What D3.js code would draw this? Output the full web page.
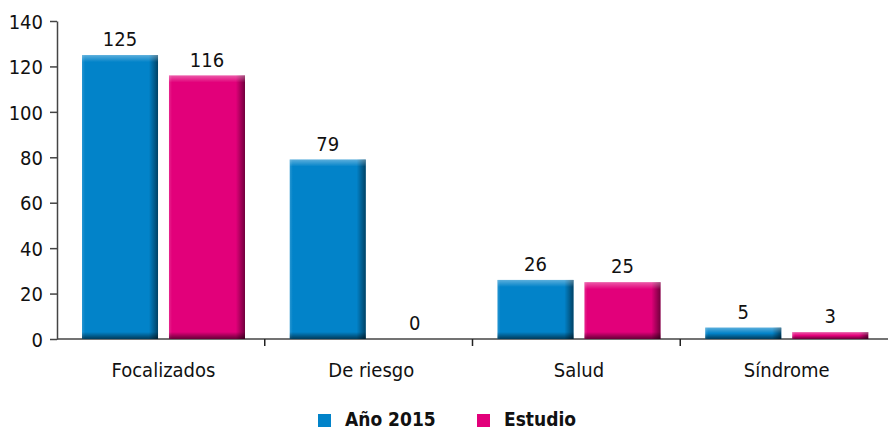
<!DOCTYPE html>
<html>
<head>
<meta charset="utf-8">
<script src="https://cdn.jsdelivr.net/npm/d3@7"></script>
<style>
    body { margin: 0; background: #fff; }
    text { font-family: "DejaVu Sans Condensed", "DejaVu Sans", sans-serif; font-stretch: condensed; fill: #111; }
</style>
</head>
<body>
<div id="chart-area"></div>
<script>

// Data
var categories = ["Focalizados", "De riesgo", "Salud", "Síndrome"];
var seriesNames = ["Año 2015", "Estudio"];
var anio2015 = [125, 79, 26, 5];
var estudio = [116, 0, 25, 3];
var yTicks = [0, 20, 40, 60, 80, 100, 120, 140];

var colorMap = {
    "Año 2015": "#0283c9",
    "Estudio": "#e2007a"
};

var data = categories.map(function(c, i) {
    return { name: c, values: [
        { key: seriesNames[0], value: anio2015[i] },
        { key: seriesNames[1], value: estudio[i] }
    ]};
});

var width = 889, height = 430;

var svg = d3.select("#chart-area").append("svg")
    .attr("width", width)
    .attr("height", height);

var defs = svg.append("defs");

// bevel gradients
var side = defs.append("linearGradient").attr("id", "side")
    .attr("x1", 0).attr("x2", 1).attr("y1", 0).attr("y2", 0);
side.append("stop").attr("offset", 0).attr("stop-color", "#fff").attr("stop-opacity", 0.15);
side.append("stop").attr("offset", 0.04).attr("stop-color", "#fff").attr("stop-opacity", 0);
side.append("stop").attr("offset", 0.88).attr("stop-color", "#000").attr("stop-opacity", 0);
side.append("stop").attr("offset", 1).attr("stop-color", "#000").attr("stop-opacity", 0.5);

var topG = defs.append("linearGradient").attr("id", "topg")
    .attr("x1", 0).attr("x2", 0).attr("y1", 0).attr("y2", 1);
topG.append("stop").attr("offset", 0).attr("stop-color", "#fff").attr("stop-opacity", 0.35);
topG.append("stop").attr("offset", 1).attr("stop-color", "#fff").attr("stop-opacity", 0);

var botG = defs.append("linearGradient").attr("id", "botg")
    .attr("x1", 0).attr("x2", 0).attr("y1", 0).attr("y2", 1);
botG.append("stop").attr("offset", 0).attr("stop-color", "#000").attr("stop-opacity", 0);
botG.append("stop").attr("offset", 1).attr("stop-color", "#000").attr("stop-opacity", 0.55);

// Scales
var x0 = d3.scaleBand()
    .domain(categories)
    .range([57, 888]);

var x1 = d3.scaleBand()
    .domain(seriesNames)
    .range([25, 188])
    .paddingInner(0.126);

var y = d3.scaleLinear()
    .domain([0, 140])
    .range([339, 21]);

// Axes
var yAxis = d3.axisLeft(y).tickValues(yTicks).tickSize(7).tickSizeOuter(0);
var gy = svg.append("g")
    .attr("class", "y-axis axis")
    .attr("transform", "translate(57,0)")
    .call(yAxis);
gy.select(".domain").attr("stroke", "#444").attr("stroke-width", 1.5);
gy.selectAll(".tick line").attr("stroke", "#444").attr("stroke-width", 1.5);
gy.selectAll(".tick text")
    .attr("x", -14)
    .attr("dy", "0.36em")
    .style("font-size", "20px")
    .attr("fill", "#111");

// x axis line with category ticks
svg.append("line")
    .attr("x1", 57).attr("x2", 888)
    .attr("y1", y(0)).attr("y2", y(0))
    .attr("stroke", "#444").attr("stroke-width", 1.5);

svg.selectAll("line.xtick")
    .data(categories.slice(1))
    .enter().append("line")
    .attr("class", "xtick")
    .attr("x1", function(d) { return x0(d); })
    .attr("x2", function(d) { return x0(d); })
    .attr("y1", y(0)).attr("y2", y(0) + 7)
    .attr("stroke", "#222").attr("stroke-width", 1.5);

svg.selectAll("text.cat")
    .data(categories)
    .enter().append("text")
    .attr("class", "cat")
    .attr("x", function(d) { return x0(d) + x1.range()[0] + (x1.range()[1] - x1.range()[0]) / 2; })
    .attr("y", 377)
    .attr("text-anchor", "middle")
    .style("font-size", "20px")
    .text(function(d) { return d; });

// Bars
var groups = svg.selectAll("g.cat-group")
    .data(data)
    .enter().append("g")
    .attr("class", "cat-group")
    .attr("transform", function(d) { return "translate(" + x0(d.name) + ",0)"; });

var bars = groups.selectAll("g.bar")
    .data(function(d) { return d.values.filter(function(v) { return v.value > 0; }); })
    .enter().append("g")
    .attr("class", "bar");

bars.append("rect")
    .attr("x", function(d) { return x1(d.key); })
    .attr("y", function(d) { return y(d.value); })
    .attr("width", x1.bandwidth())
    .attr("height", function(d) { return y(0) - y(d.value); })
    .attr("fill", function(d) { return colorMap[d.key]; });

bars.append("rect")
    .attr("x", function(d) { return x1(d.key); })
    .attr("y", function(d) { return y(d.value); })
    .attr("width", x1.bandwidth())
    .attr("height", function(d) { return y(0) - y(d.value); })
    .attr("fill", "url(#side)");

bars.append("rect")
    .attr("x", function(d) { return x1(d.key); })
    .attr("y", function(d) { return y(d.value); })
    .attr("width", x1.bandwidth())
    .attr("height", function(d) { return Math.min(7, (y(0) - y(d.value)) / 2); })
    .attr("fill", "url(#topg)");

bars.append("rect")
    .attr("x", function(d) { return x1(d.key); })
    .attr("y", function(d) { return y(0) - Math.min(7, (y(0) - y(d.value)) / 2); })
    .attr("width", x1.bandwidth())
    .attr("height", function(d) { return Math.min(7, (y(0) - y(d.value)) / 2); })
    .attr("fill", "url(#botg)");

// value labels
groups.selectAll("text.data-label")
    .data(function(d) { return d.values; })
    .enter().append("text")
    .attr("class", "data-label")
    .attr("x", function(d) { return x1(d.key) + x1.bandwidth() / 2; })
    .attr("y", function(d) { return y(d.value) - 9; })
    .attr("text-anchor", "middle")
    .style("font-size", "20px")
    .text(function(d) { return d.value; });

// Legend
var legend = svg.selectAll("g.legend")
    .data(seriesNames)
    .enter().append("g")
    .attr("class", "legend")
    .attr("transform", function(d, i) { return "translate(" + (318 + i * 159) + ",414)"; });

legend.append("rect")
    .attr("width", 13).attr("height", 13)
    .attr("fill", function(d) { return colorMap[d]; });

legend.append("text")
    .attr("x", 27)
    .attr("y", 12)
    .style("font-size", "19px")
    .style("font-weight", "bold")
    .text(function(d) { return d; });

</script>
</body>
</html>
